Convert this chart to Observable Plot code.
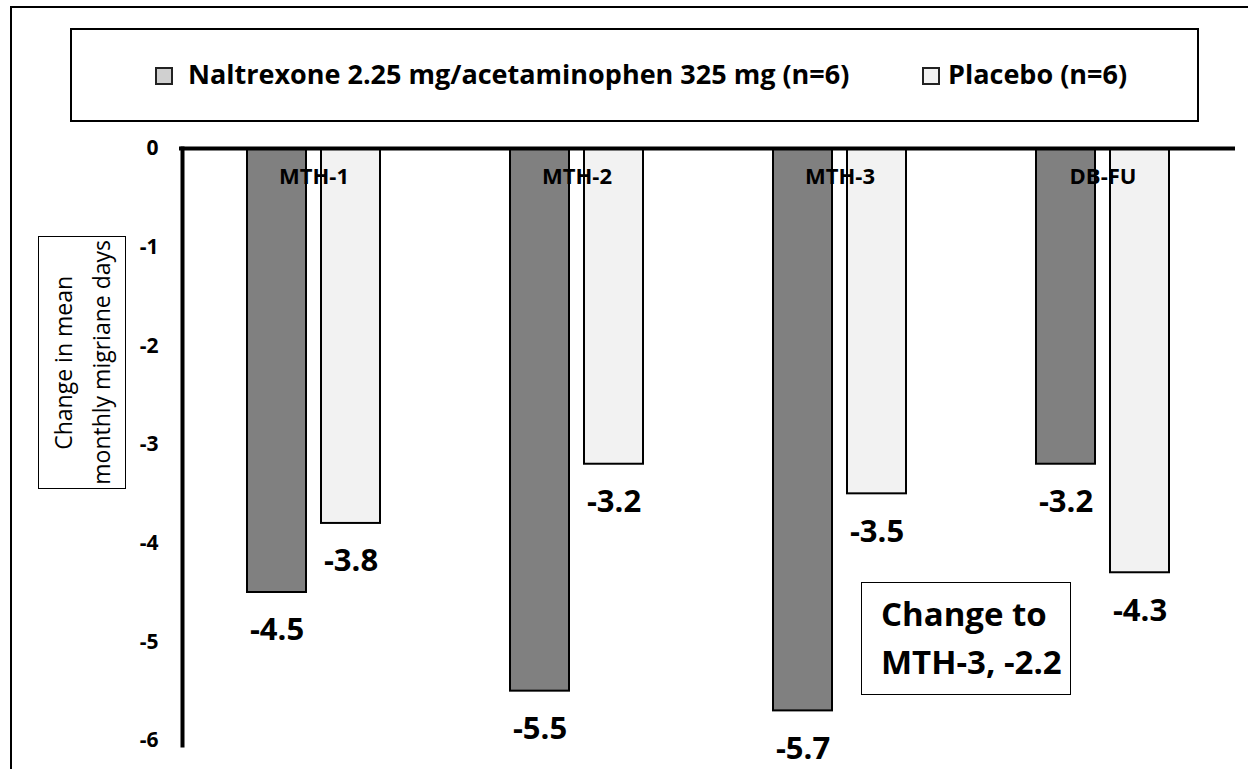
<!DOCTYPE html>
<html>
<head>
<meta charset="utf-8">
<script src="https://cdn.jsdelivr.net/npm/d3@7"></script>
<script src="https://cdn.jsdelivr.net/npm/@observablehq/plot@0.6"></script>
<style>
  html, body { margin: 0; padding: 0; background: #fff; }
  body { width: 1248px; height: 769px; overflow: hidden; position: relative; font-family: "Open Sans", sans-serif; color: #000; }
  #frame { position: absolute; left: 10px; top: 6px; width: 1300px; height: 900px; border-left: 2px solid #000; border-top: 2px solid #000; }
  #legend { position: absolute; left: 70px; top: 28px; width: 1125px; height: 90px; border: 2px solid #000; }
  .sw { position: absolute; width: 14px; height: 14px; border: 2px solid #222; top: 37px; }
  .lt { position: absolute; top: 26px; font-weight: 700; font-size: 27px; line-height: 36px; white-space: nowrap; }
  #chart { position: absolute; left: 0; top: 130px; }
  #ylab { position: absolute; left: 38px; top: 236px; width: 86px; height: 251px; border: 1px solid #000; background: #fff;
          display: flex; align-items: center; justify-content: center; }
  #ylab div { writing-mode: vertical-rl; transform: rotate(180deg); font-size: 23px; line-height: 38px; text-align: center; white-space: nowrap; }
  #note { position: absolute; left: 861px; top: 582px; width: 208px; height: 111px; border: 1px solid #000; background: #fff;
          box-sizing: content-box; }
  #note div { position: absolute; left: 19px; top: 7px; font-weight: 700; font-size: 33px; line-height: 48px; white-space: nowrap; }
</style>
</head>
<body>
<div id="frame"></div>
<div id="legend"></div>
<div id="chart"></div>
<div id="ylab"><div id="ylabText"></div></div>
<div id="note"><div id="noteText"></div></div>
<script>
// ---- data ----
const categories = ["MTH-1", "MTH-2", "MTH-3", "DB-FU"];
const drugValues = [-4.5, -5.5, -5.7, -3.2];
const placeboValues = [-3.8, -3.2, -3.5, -4.3];
const seriesNames = ["Naltrexone 2.25 mg/acetaminophen 325 mg (n=6)", "Placebo (n=6)"];
const seriesColors = ["#808080", "#f2f2f2"];
const swatchColors = ["#d0d0d0", "#f2f2f2"];
const yTicks = [0, -1, -2, -3, -4, -5, -6];
const yLabelLines = ["Change in mean", "monthly migriane days"];
const noteLines = ["Change to", "MTH-3, -2.2"];

const drug = categories.map((c, i) => ({category: c, value: drugValues[i]}));
const placebo = categories.map((c, i) => ({category: c, value: placeboValues[i]}));

// ---- legend (positions relative to legend box) ----
const legend = document.getElementById("legend");
const swatchLeft = [83, 850];
const textLeft = [116, 876];
seriesNames.forEach((name, i) => {
  const sw = document.createElement("div");
  sw.className = "sw";
  sw.style.background = swatchColors[i];
  sw.style.left = swatchLeft[i] + "px";
  legend.appendChild(sw);
  const t = document.createElement("div");
  t.className = "lt";
  t.style.left = textLeft[i] + "px";
  t.textContent = name;
  legend.appendChild(t);
});

document.getElementById("ylabText").innerHTML = yLabelLines.join("<br>");
document.getElementById("noteText").innerHTML = noteLines.join("<br>");

// ---- chart ----
const chart = Plot.plot({
  width: 1248,
  height: 639,
  marginLeft: 182,
  marginRight: 14,
  marginTop: 18,
  marginBottom: 29,
  x: {domain: categories, padding: 0, axis: null},
  y: {domain: [-6, 0]},
  style: {fontFamily: "Open Sans, sans-serif", background: "transparent", color: "#000"},
  marks: [
    Plot.barY(drug, {x: "category", y: "value", fill: seriesColors[0], stroke: "#000", strokeWidth: 2, insetLeft: 65, insetRight: 139}),
    Plot.barY(placebo, {x: "category", y: "value", fill: seriesColors[1], stroke: "#000", strokeWidth: 2, insetLeft: 139, insetRight: 65}),
    Plot.ruleY([0], {stroke: "#000", strokeWidth: 4, insetLeft: -3, insetRight: -1}),
    Plot.frame({anchor: "left", stroke: "#000", strokeWidth: 4, insetBottom: -5}),
    Plot.axisY({ticks: yTicks, tickSize: 0, tickPadding: 24, tickFormat: d => String(d), fontSize: 21, fontWeight: "bold", label: null}),
    Plot.text(categories, {x: d => d, frameAnchor: "top", dy: 20, text: d => d, fontSize: 22, fontWeight: "bold"}),
    Plot.text(drug, {x: "category", y: "value", text: d => d.value.toFixed(1), dx: -37, dy: 38, fontSize: 31, fontWeight: "bold"}),
    Plot.text(placebo, {x: "category", y: "value", text: d => d.value.toFixed(1), dx: 37, dy: 38, fontSize: 31, fontWeight: "bold"})
  ]
});
document.getElementById("chart").appendChild(chart);
</script>
</body>
</html>
